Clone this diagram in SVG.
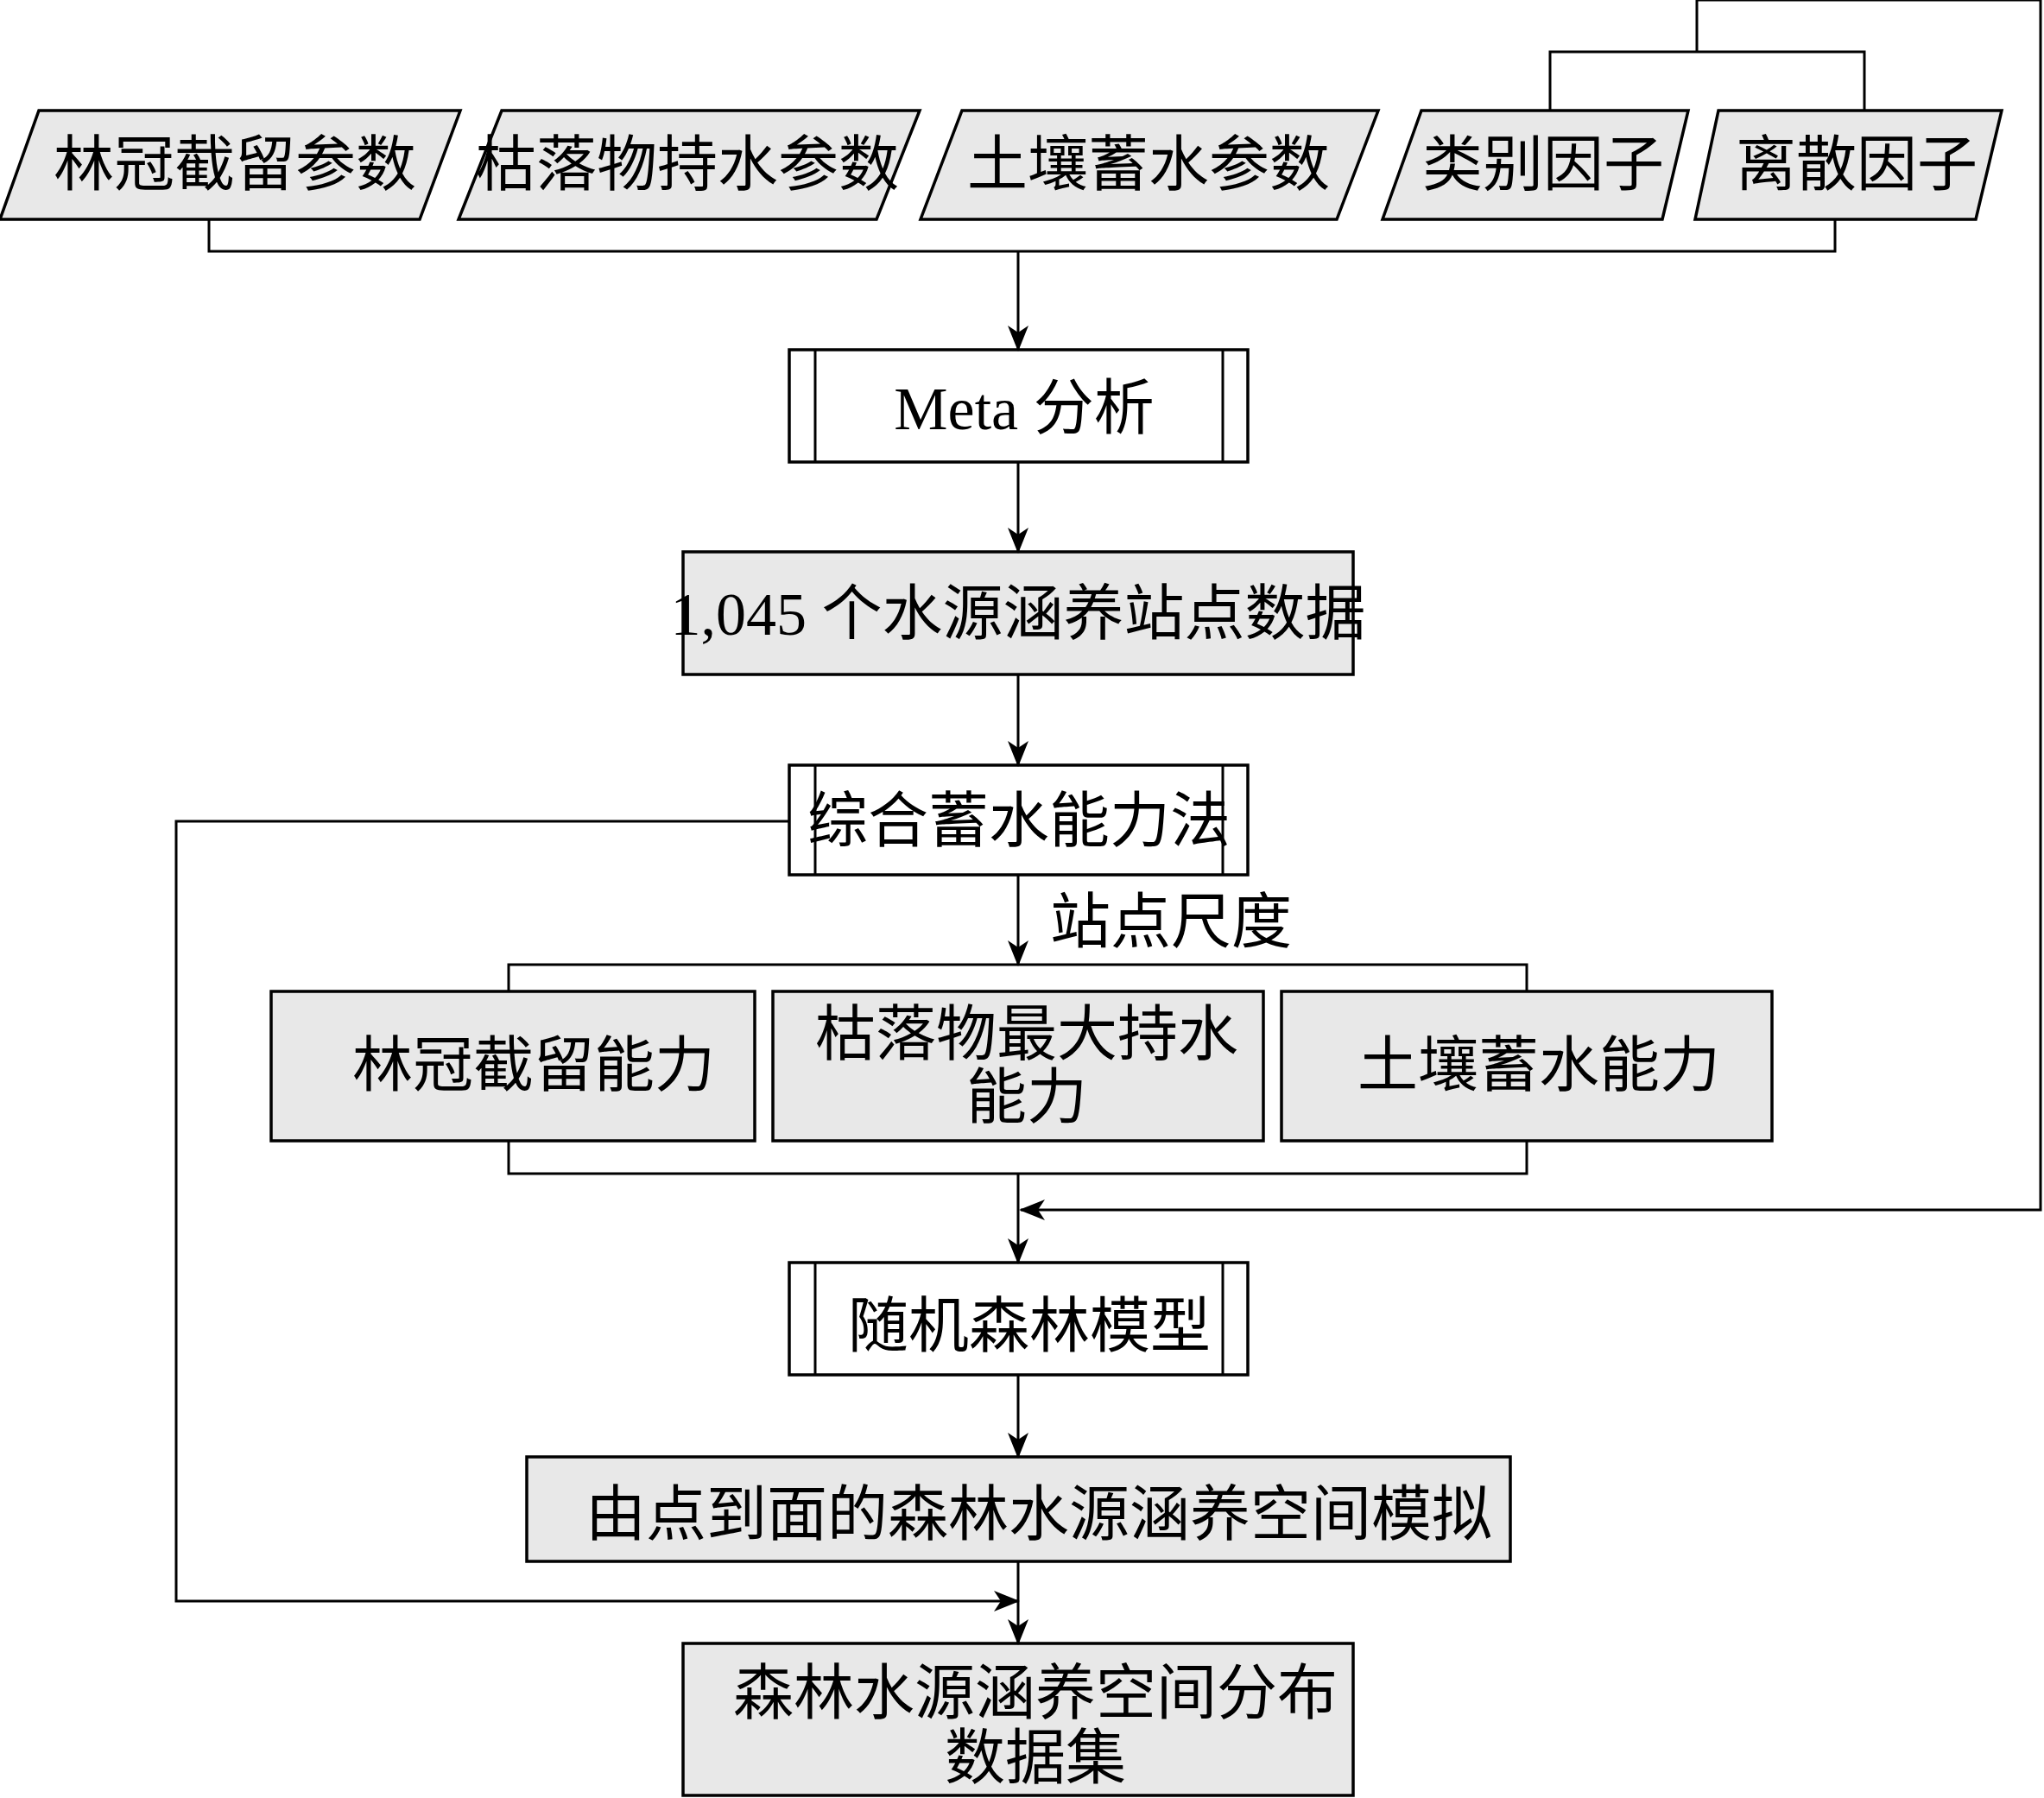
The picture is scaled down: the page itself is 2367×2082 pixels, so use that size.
<svg xmlns="http://www.w3.org/2000/svg" width="2367" height="2082" viewBox="0 0 2367 2082">
<style>
.n{fill:#e8e8e8;stroke:#000;stroke-width:3.5}
.w{fill:#fff;stroke:#000;stroke-width:3.5}
.l{fill:none;stroke:#000;stroke-width:3}
text{font-family:"Liberation Serif","Noto Sans CJK SC",serif;font-size:70px;text-anchor:middle;fill:#000}
</style>
<defs><marker id="a" markerWidth="30" markerHeight="60" refX="28" refY="15" orient="auto" markerUnits="userSpaceOnUse" viewBox="0 0 30 30"><path d="M0,3 L30,15 L0,27 L8,15 Z" fill="#000"/></marker></defs>
<g id="p1"><polygon class="n" points="45,128 533,128 486,254 0,254"/><text x="272" y="215">林冠截留参数</text></g>
<g id="p2"><polygon class="n" points="581,128 1065,128 1015,254 531,254"/><text x="796" y="215">枯落物持水参数</text></g>
<g id="p3"><polygon class="n" points="1114,128 1596,128 1548,254 1066,254"/><text x="1330" y="215">土壤蓄水参数</text></g>
<g id="p4"><polygon class="n" points="1646,128 1955,128 1925,254 1601,254"/><text x="1787" y="215">类别因子</text></g>
<g id="p5"><polygon class="n" points="1990,128 2318,128 2288,254 1963,254"/><text x="2150" y="215">离散因子</text></g>
<g id="meta"><rect class="w" x="914" y="405" width="531" height="130"/><line class="l" x1="944" y1="405" x2="944" y2="535"/><line class="l" x1="1416" y1="405" x2="1416" y2="535"/><text x="1186" y="497">Meta 分析</text></g>
<g id="sites"><rect class="n" x="791" y="639" width="776" height="142"/><text x="1179" y="735">1,045 个水源涵养站点数据</text></g>
<g id="method"><rect class="w" x="914" y="886" width="531" height="127"/><line class="l" x1="944" y1="886" x2="944" y2="1013"/><line class="l" x1="1416" y1="886" x2="1416" y2="1013"/><text x="1180" y="975">综合蓄水能力法</text></g>
<g id="c1"><rect class="n" x="314" y="1148" width="560" height="173"/><text x="618" y="1258">林冠截留能力</text></g>
<g id="c2"><rect class="n" x="895" y="1148" width="568" height="173"/><text x="1189" y="1222">枯落物最大持水</text><text x="1189" y="1295">能力</text></g>
<g id="c3"><rect class="n" x="1484" y="1148" width="568" height="173"/><text x="1782" y="1258">土壤蓄水能力</text></g>
<g id="rf"><rect class="w" x="914" y="1462" width="531" height="130"/><line class="l" x1="944" y1="1462" x2="944" y2="1592"/><line class="l" x1="1416" y1="1462" x2="1416" y2="1592"/><text x="1192" y="1560">随机森林模型</text></g>
<g id="sim"><rect class="n" x="610" y="1687" width="1139" height="121"/><text x="1203" y="1778">由点到面的森林水源涵养空间模拟</text></g>
<g id="out"><rect class="n" x="791" y="1903" width="776" height="176"/><text x="1199" y="1985">森林水源涵养空间分布</text><text x="1199" y="2060">数据集</text></g>
<g id="connectors">
<polyline class="l" points="242,254 242,291 2125,291 2125,254"/>
<line class="l" x1="1179" y1="291" x2="1179" y2="405" marker-end="url(#a)"/>
<polyline class="l" points="1795,128 1795,60 2159,60 2159,128"/>
<polyline class="l" points="1965,60 1965,0 2363,0 2363,1401 1182,1401" marker-end="url(#a)"/>
<line class="l" x1="1179" y1="535" x2="1179" y2="639" marker-end="url(#a)"/>
<line class="l" x1="1179" y1="781" x2="1179" y2="886" marker-end="url(#a)"/>
<line class="l" x1="1179" y1="1013" x2="1179" y2="1117" marker-end="url(#a)"/>
<text x="1356" y="1092">站点尺度</text>
<polyline class="l" points="589,1148 589,1117 1768,1117 1768,1148"/>
<polyline class="l" points="589,1321 589,1359 1768,1359 1768,1321"/>
<line class="l" x1="1179" y1="1359" x2="1179" y2="1462" marker-end="url(#a)"/>
<line class="l" x1="1179" y1="1592" x2="1179" y2="1687" marker-end="url(#a)"/>
<line class="l" x1="1179" y1="1808" x2="1179" y2="1903" marker-end="url(#a)"/>
<polyline class="l" points="914,951 204,951 204,1854 1179,1854" marker-end="url(#a)"/>
</g>
</svg>
